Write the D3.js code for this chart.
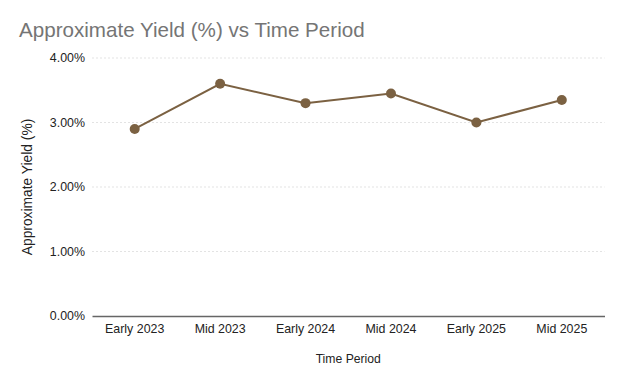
<!DOCTYPE html>
<html><head><meta charset="utf-8">
<script src="https://cdn.jsdelivr.net/npm/d3@7"></script>
<style>body{margin:0;background:#fff}svg{display:block;font-family:"Liberation Sans",Arial,sans-serif}</style>
</head><body><svg id="c" width="624" height="385"></svg>
<script>
const categories = ["Early 2023","Mid 2023","Early 2024","Mid 2024","Early 2025","Mid 2025"];
const yields = [2.9, 3.6, 3.3, 3.45, 3.0, 3.35];
const yTicks = [0, 1, 2, 3, 4];

(function () {
const svg = d3.select("#c");
const pLeft = 92, pRight = 604.5, pTop = 58, pBottom = 316;
const x = d3.scaleBand().domain(categories).range([pLeft, pRight]);
const y = d3.scaleLinear().domain([0, 4]).range([pBottom, pTop]);

svg.append("text").attr("x", 19).attr("y", 37).attr("fill", "#757575")
  .attr("font-size", 20.6).text("Approximate Yield (%) vs Time Period");

// gridlines
svg.append("g").selectAll("line").data(yTicks.filter(d => d > 0)).join("line")
  .attr("x1", pLeft).attr("x2", pRight).attr("y1", d => y(d)).attr("y2", d => y(d))
  .attr("stroke", "#e3e3e3").attr("stroke-dasharray", "2,2").attr("stroke-width", 1);

// y axis labels
const yAxis = d3.axisLeft(y).tickValues(yTicks).tickSize(0).tickPadding(7)
  .tickFormat(d => d.toFixed(2) + "%");
const gy = svg.append("g").attr("transform", `translate(${pLeft},0)`).call(yAxis);
gy.select(".domain").remove();
gy.selectAll("text").attr("font-size", 12.4).attr("fill", "#222").attr("font-family", "Liberation Sans, Arial, sans-serif");

// x axis
const xAxis = d3.axisBottom(x).tickSize(0).tickPadding(8);
const gx = svg.append("g").attr("transform", `translate(0,${pBottom})`).call(xAxis);
gx.select(".domain").attr("stroke", "#666").attr("stroke-width", 1.5);
gx.selectAll("text").attr("font-size", 12.4).attr("fill", "#222").attr("font-family", "Liberation Sans, Arial, sans-serif");

// axis titles
svg.append("text").attr("x", (pLeft + pRight) / 2).attr("y", 363).attr("text-anchor", "middle")
  .attr("font-size", 12.2).attr("fill", "#222").text("Time Period");
svg.append("text").attr("transform", `translate(32,${(pTop + pBottom) / 2}) rotate(-90)`)
  .attr("text-anchor", "middle").attr("font-size", 13.8).attr("fill", "#222").text("Approximate Yield (%)");

// line
const color = "#7b6142";
const line = d3.line().x((d, i) => x(categories[i]) + x.bandwidth() / 2).y(d => y(d));
svg.append("path").datum(yields).attr("d", line).attr("fill", "none")
  .attr("stroke", color).attr("stroke-width", 2);
svg.append("g").selectAll("circle").data(yields).join("circle")
  .attr("cx", (d, i) => x(categories[i]) + x.bandwidth() / 2).attr("cy", d => y(d))
  .attr("r", 5).attr("fill", color);
})();
</script></body></html>
